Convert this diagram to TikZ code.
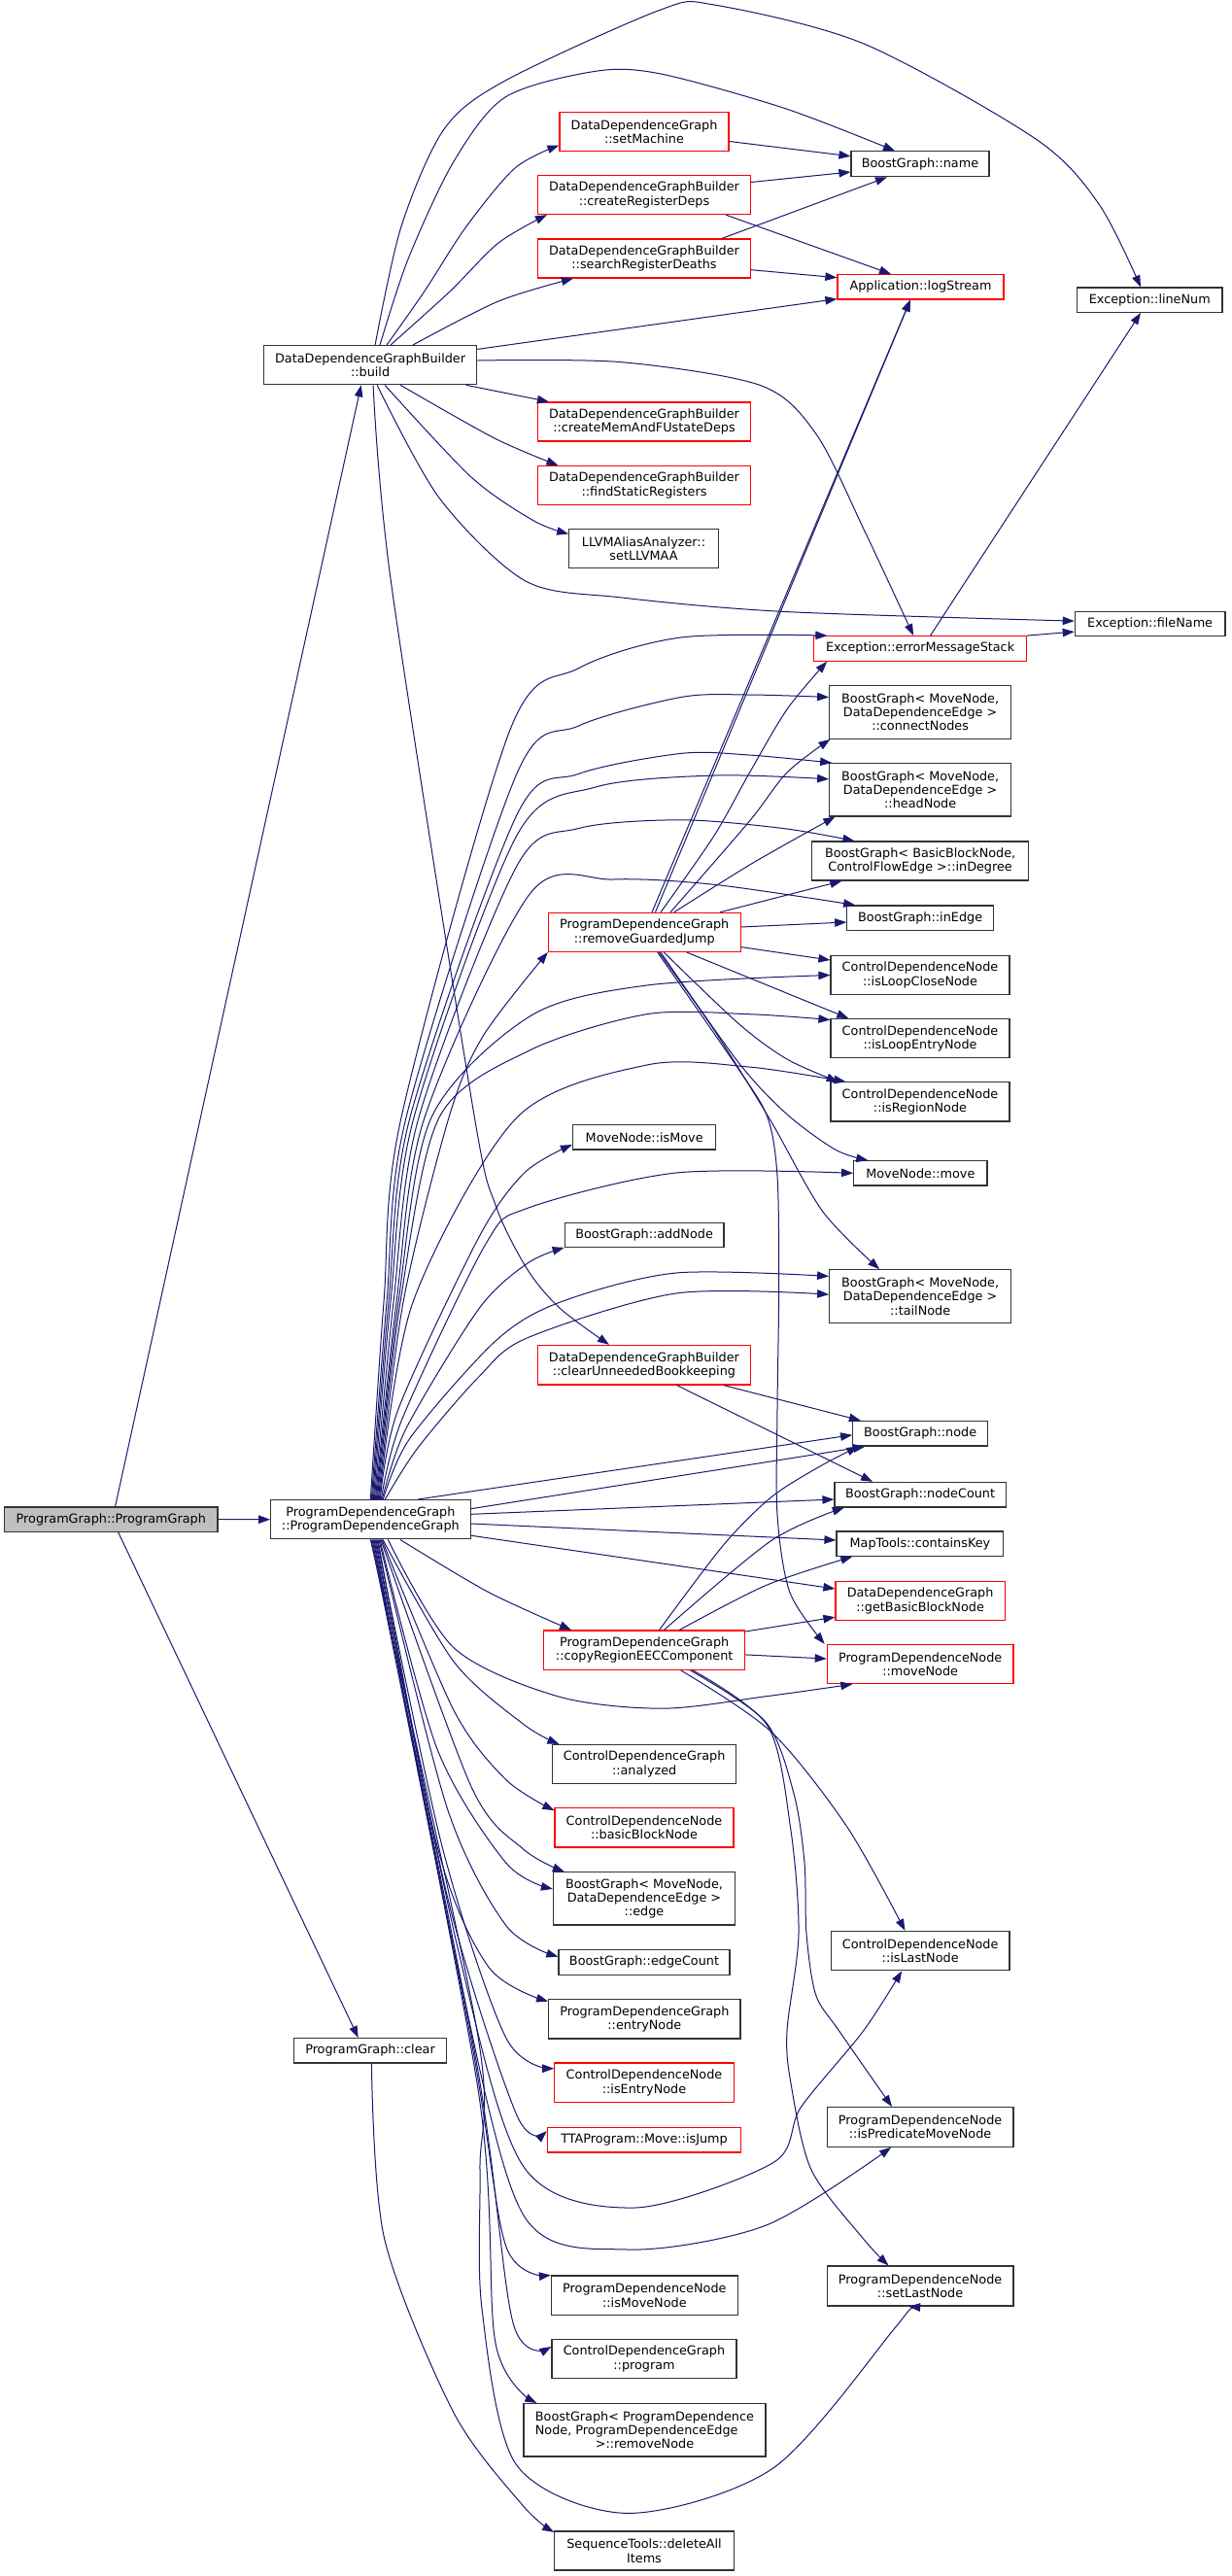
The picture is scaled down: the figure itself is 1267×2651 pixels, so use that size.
\documentclass[tikz,border=0pt]{standalone}
\usepackage{fontspec}
\setmainfont{DejaVu Sans}
\usetikzlibrary{arrows.meta}
\definecolor{edgec}{HTML}{191970}
\definecolor{bdr}{HTML}{333333}
\definecolor{redb}{HTML}{FF0000}
\definecolor{pgfill}{HTML}{BFBFBF}
\begin{document}
\begin{tikzpicture}[x=1pt,y=-1pt,
  nb/.style={draw=bdr, line width=1.2pt, fill=white, inner sep=0pt, align=center, font=\fontsize{12.8}{14.4}\selectfont},
  nr/.style={nb, draw=redb},
  e/.style={draw=edgec, line width=1pt, -{Triangle[length=12pt,width=8.5pt]}}
]
\fill[white] (0,0) rectangle (1267,2651);
\useasboundingbox (0,0) rectangle (1267,2651);

% ---------- left / middle column ----------
\node[nb, fill=pgfill, minimum width=219.4pt, minimum height=25.3pt] (pg) at (114.3,1563.6) {ProgramGraph::ProgramGraph};
\node[nb, minimum width=219.2pt, minimum height=40.2pt] (build) at (381.1,375.6) {DataDependenceGraphBuilder\\::build};
\node[nb, minimum width=205.5pt, minimum height=40.2pt] (pdg) at (381.35,1563.7) {ProgramDependenceGraph\\::ProgramDependenceGraph};
\node[nb, minimum width=156.6pt, minimum height=25.5pt] (clear) at (381,2110.3) {ProgramGraph::clear};

\node[nr, minimum width=174pt, minimum height=39.8pt] (setMachine) at (663,135.5) {DataDependenceGraph\\::setMachine};
\node[nr, minimum width=219pt, minimum height=40pt] (crd) at (663,200.5) {DataDependenceGraphBuilder\\::createRegisterDeps};
\node[nr, minimum width=219pt, minimum height=40pt] (srd) at (663,266) {DataDependenceGraphBuilder\\::searchRegisterDeaths};
\node[nr, minimum width=219pt, minimum height=40pt] (cmf) at (663,434) {DataDependenceGraphBuilder\\::createMemAndFUstateDeps};
\node[nr, minimum width=219pt, minimum height=40pt] (fsr) at (663,499.5) {DataDependenceGraphBuilder\\::findStaticRegisters};
\node[nb, minimum width=153.5pt, minimum height=40.2pt] (llvm) at (662.5,564.7) {LLVMAliasAnalyzer::\\setLLVMAA};
\node[nr, minimum width=197.7pt, minimum height=40pt] (rgj) at (663.25,959.4) {ProgramDependenceGraph\\::removeGuardedJump};
\node[nb, minimum width=147.3pt, minimum height=25.5pt] (isMove) at (663.15,1170.25) {MoveNode::isMove};
\node[nb, minimum width=163.8pt, minimum height=25.5pt] (addNode) at (663.1,1271.1) {BoostGraph::addNode};
\node[nr, minimum width=219.2pt, minimum height=40.6pt] (cub) at (662.9,1404.7) {DataDependenceGraphBuilder\\::clearUnneededBookkeeping};
\node[nr, minimum width=206.9pt, minimum height=40.3pt] (crc) at (663.15,1698.15) {ProgramDependenceGraph\\::copyRegionEECComponent};
\node[nb, minimum width=189.3pt, minimum height=39.8pt] (analyzed) at (663.15,1815.4) {ControlDependenceGraph\\::analyzed};
\node[nr, minimum width=184pt, minimum height=40.3pt] (bbn) at (663,1880.85) {ControlDependenceNode\\::basicBlockNode};
\node[nb, minimum width=187pt, minimum height=54.2pt] (edge) at (663,1953.9) {BoostGraph< MoveNode,\\DataDependenceEdge >\\::edge};
\node[nb, minimum width=176pt, minimum height=26pt] (edgeCount) at (663,2019.3) {BoostGraph::edgeCount};
\node[nb, minimum width=197.3pt, minimum height=40.3pt] (entryNode) at (663.35,2077.85) {ProgramDependenceGraph\\::entryNode};
\node[nr, minimum width=184.5pt, minimum height=40.7pt] (isEntryNode) at (663,2143.35) {ControlDependenceNode\\::isEntryNode};
\node[nr, minimum width=199.3pt, minimum height=25.4pt] (isJump) at (663,2202.3) {TTAProgram::Move::isJump};
\node[nb, minimum width=191.9pt, minimum height=40.3pt] (isMoveNode) at (663.35,2362.15) {ProgramDependenceNode\\::isMoveNode};
\node[nb, minimum width=190pt, minimum height=40.2pt] (program) at (663,2427.4) {ControlDependenceGraph\\::program};
\node[nb, minimum width=249pt, minimum height=54.5pt] (removeNode) at (663.45,2500.75) {BoostGraph< ProgramDependence\\\rlap{Node, ProgramDependenceEdge}\phantom{BoostGraph< ProgramDependence}\\>::removeNode};
\node[nb, minimum width=184.5pt, minimum height=40pt] (deleteAll) at (663,2625) {SequenceTools::deleteAll\\Items};

% ---------- right column ----------
\node[nb, minimum width=142pt, minimum height=25.9pt] (name) at (947,168.75) {BoostGraph::name};
\node[nr, minimum width=171pt, minimum height=25.4pt] (logStream) at (947.5,295.3) {Application::logStream};
\node[nb, minimum width=149.4pt, minimum height=25.4pt] (lineNum) at (1183.3,308.7) {Exception::lineNum};
\node[nb, minimum width=154.7pt, minimum height=25.4pt] (fileName) at (1183.65,642.1) {Exception::fileName};
\node[nr, minimum width=218.8pt, minimum height=25.5pt] (ems) at (947.1,667.45) {Exception::errorMessageStack};
\node[nb, minimum width=186.9pt, minimum height=54.9pt] (connectNodes) at (947.15,732.75) {BoostGraph< MoveNode,\\DataDependenceEdge >\\::connectNodes};
\node[nb, minimum width=186.9pt, minimum height=54.4pt] (headNode) at (947.15,812.8) {BoostGraph< MoveNode,\\DataDependenceEdge >\\::headNode};
\node[nb, minimum width=223.1pt, minimum height=40pt] (inDegree) at (947.15,886) {BoostGraph< BasicBlockNode,\\ControlFlowEdge >::inDegree};
\node[nb, minimum width=150.7pt, minimum height=25.5pt] (inEdge) at (947.15,944.75) {BoostGraph::inEdge};
\node[nb, minimum width=184pt, minimum height=40.2pt] (isLoopCloseNode) at (947,1003.5) {ControlDependenceNode\\::isLoopCloseNode};
\node[nb, minimum width=184pt, minimum height=40.2pt] (isLoopEntryNode) at (947,1068.7) {ControlDependenceNode\\::isLoopEntryNode};
\node[nb, minimum width=184pt, minimum height=40.2pt] (isRegionNode) at (947,1133.9) {ControlDependenceNode\\::isRegionNode};
\node[nb, minimum width=137.3pt, minimum height=25.4pt] (move) at (947.35,1207.3) {MoveNode::move};
\node[nb, minimum width=186.9pt, minimum height=54.9pt] (tailNode) at (947.15,1334.15) {BoostGraph< MoveNode,\\DataDependenceEdge >\\::tailNode};
\node[nb, minimum width=138.9pt, minimum height=25.5pt] (node) at (947.15,1475.25) {BoostGraph::node};
\node[nb, minimum width=176.2pt, minimum height=25.5pt] (nodeCount) at (947.1,1538.15) {BoostGraph::nodeCount};
\node[nb, minimum width=171.8pt, minimum height=25.3pt] (containsKey) at (946.9,1588.65) {MapTools::containsKey};
\node[nr, minimum width=174.2pt, minimum height=40.2pt] (getBBN) at (947.1,1647.3) {DataDependenceGraph\\::getBasicBlockNode};
\node[nr, minimum width=191.7pt, minimum height=40.2pt] (moveNode) at (947.15,1712.5) {ProgramDependenceNode\\::moveNode};
\node[nb, minimum width=183.7pt, minimum height=40.3pt] (isLastNode) at (947.15,2007.65) {ControlDependenceNode\\::isLastNode};
\node[nb, minimum width=191.8pt, minimum height=40.7pt] (isPred) at (947.1,2188.95) {ProgramDependenceNode\\::isPredicateMoveNode};
\node[nb, minimum width=191.8pt, minimum height=41pt] (setLastNode) at (947.1,2352.5) {ProgramDependenceNode\\::setLastNode};

% ---------- edges: ProgramGraph ----------
\draw[e] ([xshift=4.3pt]pg.north) -- ([xshift=-9.4pt]build.south);
\draw[e] (pg.east) -- (pdg.west);
\draw[e] ([xshift=7.4pt]pg.south) -- ([xshift=-12.3pt]clear.north);
\draw[e] plot[smooth] coordinates {([xshift=1.4pt]clear.south) (395.7,2304) (467,2483) (538.6,2579) ([yshift=-1.5pt]deleteAll.north west)};

% ---------- edges: build ----------
\draw[e] plot[smooth] coordinates {([xshift=5pt]build.north) (413,233) (457,133) (520,83) (680,10) (735,5) (889,45) (1066,143) (1131,210) ([xshift=-9.3pt]lineNum.north)};
\draw[e] plot[smooth] coordinates {([xshift=10pt]build.north) (420,266.7) (466.7,166.7) (520,100) (613,73.3) (680,76) (808,111.6) ([xshift=-26pt]name.north)};
\draw[e] plot[smooth] coordinates {([xshift=17pt]build.north) (436.7,300) (480,233) (530,173) ([yshift=-14pt]setMachine.west)};
\draw[e] plot[smooth] coordinates {([xshift=21pt]build.north) (463,300) (513,250) ([xshift=10pt]crd.south west)};
\draw[e] plot[smooth] coordinates {([xshift=44pt]build.north) (513,310) ([xshift=37pt]srd.south west)};
\draw[e] ([yshift=-4.5pt]build.north east) -- ([yshift=1pt]logStream.south west);
\draw[e] plot[smooth] coordinates {([yshift=4.6pt]build.east) (640,372.7) (783,396.7) (840,446.7) (890,546.7) ([xshift=-7pt]ems.north)};
\draw[e] ([xshift=-11.7pt]build.south east) -- ([xshift=12pt]cmf.north west);
\draw[e] plot[smooth] coordinates {([xshift=31pt]build.south) (509,451) ([xshift=21.5pt]fsr.north west)};
\draw[e] plot[smooth] coordinates {([xshift=15pt]build.south) (485,491) (549,535.7) ([yshift=-5.4pt]llvm.north west)};
\draw[e] plot[smooth] coordinates {([xshift=7pt]build.south) (452.5,513) (541,598) (640,615) (808,629.5) ([yshift=3pt]fileName.west)};
\draw[e] plot[smooth] coordinates {([xshift=3pt]build.south) (402.6,600) (486.7,1140) (510,1240) (543,1306.7) (576.7,1346.7) ([xshift=-36pt]cub.north)};

% ---------- edges: second level, top ----------
\draw[e] ([yshift=-10pt]setMachine.east) -- ([yshift=8pt]name.west);
\draw[e] ([yshift=13pt]crd.east) -- ([yshift=-8.25pt]name.west);
\draw[e] ([xshift=84pt]crd.south) -- ([xshift=-30.5pt]logStream.north);
\draw[e] ([xshift=80pt]srd.north) -- ([xshift=-34pt]name.south);
\draw[e] ([yshift=-11.7pt]srd.east) -- ([yshift=9.6pt]logStream.west);
\draw[e] ([xshift=10.4pt]ems.north) -- ([xshift=-9.3pt]lineNum.south);
\draw[e] (ems.north east) -- ([yshift=-8pt]fileName.west);

% ---------- edges: removeGuardedJump ----------
\draw[e] ([xshift=7.75pt]rgj.north) -- ([xshift=-10.5pt]logStream.south);
\draw[e] ([xshift=11.25pt]rgj.north) -- ([xshift=-10.5pt]logStream.south);
\draw[e] plot[smooth] coordinates {([xshift=16.75pt]rgj.north) (735,860) (771,796) (810,730) ([xshift=14pt]ems.south west)};
\draw[e] plot[smooth] coordinates {([xshift=26.75pt]rgj.north) (771,845.5) (810,795) ([xshift=1.3pt]connectNodes.south west)};
\draw[e] plot[smooth] coordinates {([xshift=30.5pt]rgj.north) (775,888) ([xshift=6.3pt]headNode.south west)};
\draw[e] ([xshift=77.75pt]rgj.north) -- ([xshift=31.4pt]inDegree.south west);
\draw[e] ([yshift=5.4pt]rgj.east) -- ([yshift=-4.25pt]inEdge.west);
\draw[e] ([yshift=-15.2pt]rgj.east) -- ([yshift=15.5pt]isLoopCloseNode.west);
\draw[e] ([xshift=43.45pt]rgj.south) -- ([xshift=-73.7pt]isLoopEntryNode.north);
\draw[e] plot[smooth] coordinates {([xshift=20pt]rgj.south) (760,1053.3) (810,1090) ([xshift=8.3pt]isRegionNode.north west)};
\draw[e] plot[smooth] coordinates {([xshift=16.75pt]rgj.south) (760,1093.3) (810,1146.7) (860,1183.3) ([xshift=-54pt]move.north)};
\draw[e] plot[smooth] coordinates {([xshift=15pt]rgj.south) (735,1060) (793,1153) (846.7,1246.7) ([xshift=-42pt]tailNode.north)};
\draw[e] plot[smooth] coordinates {([xshift=13.45pt]rgj.south) (760,1100) (790,1150) (800,1210) (801.7,1320) (800,1450) (800,1559) (813,1639) ([xshift=-2pt]moveNode.north west)};

% ---------- edges: ProgramDependenceGraph, upward ----------
\draw[e] plot[smooth] coordinates {(pdg.north) (395,1340) (413,1150) (525,751) (595.5,687.7) (700.8,656) ([xshift=14.3pt]ems.north west)};
\draw[e] plot[smooth] coordinates {([xshift=1pt]pdg.north) (398,1340) (418,1150) (532,796) (595.5,747) (700.8,717.5) (771,715) ([yshift=15.25pt]connectNodes.west)};
\draw[e] plot[smooth] coordinates {([xshift=2pt]pdg.north) (400,1340) (422,1150) (532,838.5) (595.5,796.4) (700.8,775.4) (771,777) ([xshift=3pt]headNode.north west)};
\draw[e] plot[smooth] coordinates {([xshift=3pt]pdg.north) (402,1340) (426,1150) (532,859.6) (613,810) (736,798) ([yshift=11pt]headNode.west)};
\draw[e] plot[smooth] coordinates {([xshift=4pt]pdg.north) (405,1340) (431,1150) (532,891) (595.5,852.5) (700.8,843.8) (806,852.5) ([xshift=44.4pt]inDegree.north west)};
\draw[e] plot[smooth] coordinates {([xshift=5pt]pdg.north) (408,1340) (437,1150) (546,919) (630.6,905) (736,910.4) ([xshift=9pt]inEdge.north west)};
\draw[e] plot[smooth] coordinates {([xshift=6pt]pdg.north) (410,1340) (444,1150) (546,1045.5) (665.7,1014) (isLoopCloseNode.west)};
\draw[e] plot[smooth] coordinates {([xshift=7pt]pdg.north) (412,1340) (452,1150) (546,1080.5) (665.7,1043.7) (771,1043.7) ([yshift=-1.5pt]isLoopEntryNode.north west)};
\draw[e] plot[smooth] coordinates {([xshift=8pt]pdg.north) (415,1340) (462,1150) (497,1066.5) (rgj.south west)};
\draw[e] plot[smooth] coordinates {([xshift=9pt]pdg.north) (425,1340) (532,1150) (665.7,1096) (771,1098) ([xshift=16pt]isRegionNode.north west)};
\draw[e] plot[smooth] coordinates {([xshift=10pt]pdg.north) (410,1450) (493,1273) (540,1206.7) ([yshift=-7.75pt]isMove.west)};
\draw[e] plot[smooth] coordinates {([xshift=11pt]pdg.north) (414,1460) (500,1280) (543,1243.3) (695.7,1207) (move.west)};
\draw[e] plot[smooth] coordinates {([xshift=12pt]pdg.north) (418,1470) (493,1346.7) (543,1300) ([yshift=0.5pt]addNode.south west)};
\draw[e] plot[smooth] coordinates {([xshift=13pt]pdg.north) (422,1480) (510,1380) (576.7,1340) (695.7,1310) ([yshift=20.75pt]tailNode.west)};
\draw[e] plot[smooth] coordinates {([xshift=15pt]pdg.north) (430,1490) (493,1416.7) (543,1376.7) (695.7,1331) ([yshift=2pt]tailNode.west)};

% ---------- edges: ProgramDependenceGraph, rightward ----------
\draw[e] ([xshift=48.65pt]pdg.north) -- ([yshift=-1.5pt]node.west);
\draw[e] ([yshift=-9.7pt]pdg.north east) -- ([xshift=13.3pt]node.south west);
\draw[e] ([yshift=5.4pt]pdg.east) -- ([yshift=-4.85pt]nodeCount.west);
\draw[e] ([yshift=-4.3pt]pdg.east) -- ([yshift=3.65pt]containsKey.west);
\draw[e] ([yshift=4.2pt]pdg.south east) -- ([yshift=12.3pt]getBBN.west);

% ---------- edges: ProgramDependenceGraph, downward ----------
\draw[e] plot[smooth] coordinates {([xshift=30.45pt]pdg.south) (502.9,1638.6) ([xshift=28.9pt]crc.north west)};
\draw[e] plot[smooth] coordinates {([xshift=18pt]pdg.south) (467,1695.7) (574,1745.7) (681.4,1758.2) (788.6,1745.7) ([xshift=26.6pt]moveNode.south west)};
\draw[e] plot[smooth] coordinates {([xshift=12.65pt]pdg.south) (467,1710) (538.6,1774.3) ([xshift=7.5pt]analyzed.north west)};
\draw[e] plot[smooth] coordinates {([xshift=11.65pt]pdg.south) (467,1760) (520.7,1831.4) ([yshift=-3pt]bbn.north west)};
\draw[e] plot[smooth] coordinates {([xshift=10.65pt]pdg.south) (485,1838.6) (538.6,1902.9) ([xshift=12pt]edge.north west)};
\draw[e] plot[smooth] coordinates {([xshift=9.65pt]pdg.south) (450,1800) (520.7,1917) ([yshift=10pt]edge.west)};
\draw[e] plot[smooth] coordinates {([xshift=8.65pt]pdg.south) (460,1860) (520.7,1981.4) ([yshift=5.7pt]edgeCount.west)};
\draw[e] plot[smooth] coordinates {([xshift=7.65pt]pdg.south) (450,1900) (502.9,2024.3) ([yshift=-2.5pt]entryNode.north west)};
\draw[e] plot[smooth] coordinates {([xshift=6.65pt]pdg.south) (455,1900) (520.7,2097) ([yshift=-6.3pt]isEntryNode.north west)};
\draw[e] plot[smooth] coordinates {([xshift=5.65pt]pdg.south) (460,1950) (531.4,2175.7) ([yshift=-4pt]isJump.north west)};
\draw[e] plot[smooth] coordinates {([xshift=4.65pt]pdg.south) (470,2000) (538.6,2229.3) (652.9,2272) (795.7,2225.7) (824.3,2168.6) (888.6,2090) ([xshift=-19pt]isLastNode.south)};
\draw[e] plot[smooth] coordinates {([xshift=3.65pt]pdg.south) (470,2020) (538.6,2279.3) (645.7,2315) (788.6,2290) ([xshift=-30pt]isPred.south)};
\draw[e] plot[smooth] coordinates {([xshift=2.65pt]pdg.south) (485,2100) (520.7,2311.4) (isMoveNode.north west)};
\draw[e] plot[smooth] coordinates {([xshift=1.65pt]pdg.south) (490,2120) (527.9,2390) ([yshift=12.4pt]program.west)};
\draw[e] plot[smooth] coordinates {([xshift=0.65pt]pdg.south) (492,2150) (510,2411.4) ([xshift=14pt]removeNode.north west)};
\draw[e] plot[smooth] coordinates {(pdg.south) (491,2090) (494,2233) (496,2376) (531.4,2536.4) (645.7,2586.4) (795.7,2540) (920,2397) ([xshift=-12pt]setLastNode.south)};

% ---------- edges: copyRegionEECComponent ----------
\draw[e] plot[smooth] coordinates {([xshift=15.45pt]crc.north) (744.6,1590) (793.5,1541) (842.5,1509.8) ([xshift=6.3pt]node.south west)};
\draw[e] plot[smooth] coordinates {([xshift=20.35pt]crc.north) (793.5,1585.7) ([xshift=10.4pt]nodeCount.south west)};
\draw[e] plot[smooth] coordinates {([xshift=36.15pt]crc.north) (788.6,1631.4) ([xshift=16.9pt]containsKey.south west)};
\draw[e] ([yshift=-1.6pt]crc.north east) -- ([yshift=3.8pt]getBBN.south west);
\draw[e] ([yshift=-4.75pt]crc.east) -- ([yshift=5.5pt]moveNode.west);
\draw[e] plot[smooth] coordinates {([xshift=37.45pt]crc.south) (793.5,1782) (871.8,1880) ([xshift=-15.65pt]isLastNode.north)};
\draw[e] plot[smooth] coordinates {([xshift=47.25pt]crc.south) (788,1772) (817,1845.7) (828,1917) (830,1990) (839.6,2052.8) (863.6,2090) ([xshift=-29.1pt]isPred.north)};
\draw[e] plot[smooth] coordinates {([xshift=49.85pt]crc.south) (790,1776) (813.6,1881) (822,1990) (810,2090) (814,2144) (835,2233) (888.6,2304) ([xshift=-32.6pt]setLastNode.north)};

% ---------- edges: clearUnneededBookkeeping ----------
\draw[e] ([xshift=82pt]cub.south) -- ([xshift=8.8pt]node.north west);
\draw[e] ([xshift=33.7pt]cub.south) -- ([xshift=39.7pt]nodeCount.north west);
\end{tikzpicture}
\end{document}
